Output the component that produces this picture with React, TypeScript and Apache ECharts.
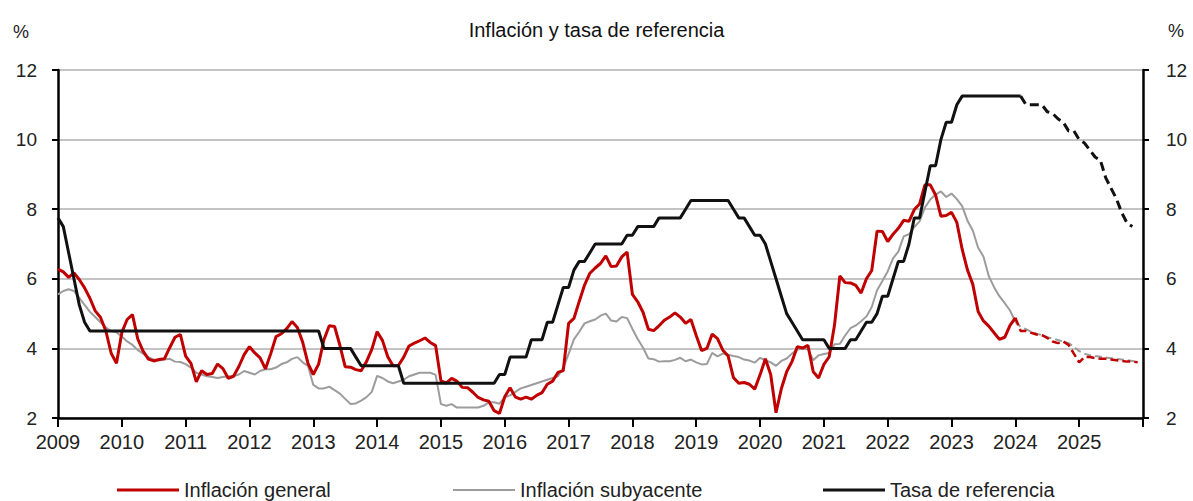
import React, { useEffect, useRef } from "react";
import * as echarts from "echarts";

const START_YEAR = 2009;
const yearTicks = [2009, 2010, 2011, 2012, 2013, 2014, 2015, 2016, 2017, 2018, 2019, 2020, 2021, 2022, 2023, 2024, 2025];

// Monthly, Jan 2009 – Jan 2024
const inflacionGeneral = [
  6.28, 6.2, 6.04, 6.17, 5.98, 5.74, 5.44, 5.08, 4.89, 4.5, 3.86, 3.57,
  4.46, 4.83, 4.97, 4.27, 3.92, 3.69, 3.64, 3.68, 3.7, 4.02, 4.32, 4.4,
  3.78, 3.57, 3.04, 3.36, 3.25, 3.28, 3.55, 3.42, 3.14, 3.2, 3.48, 3.82,
  4.05, 3.87, 3.73, 3.41, 3.85, 4.34, 4.42, 4.57, 4.77, 4.6, 4.18, 3.57,
  3.25, 3.55, 4.25, 4.65, 4.63, 4.09, 3.47, 3.46, 3.39, 3.36, 3.62, 3.97,
  4.48, 4.23, 3.76, 3.5, 3.51, 3.75, 4.07, 4.15, 4.22, 4.3, 4.17, 4.08,
  3.07, 3.0, 3.14, 3.06, 2.88, 2.87, 2.74, 2.59, 2.52, 2.48, 2.21, 2.13,
  2.61, 2.87, 2.6, 2.54, 2.6, 2.54, 2.65, 2.73, 2.97, 3.06, 3.31, 3.36,
  4.72, 4.86, 5.35, 5.82, 6.16, 6.31, 6.44, 6.66, 6.35, 6.37, 6.63, 6.77,
  5.55, 5.34, 5.04, 4.55, 4.51, 4.65, 4.81, 4.9, 5.02, 4.9, 4.72, 4.83,
  4.37, 3.94, 4.0, 4.41, 4.28, 3.95, 3.78, 3.16, 3.0, 3.02, 2.97, 2.83,
  3.24, 3.7, 3.25, 2.15, 2.84, 3.33, 3.62, 4.05, 4.01, 4.09, 3.33, 3.15,
  3.54, 3.76, 4.67, 6.08, 5.89, 5.88, 5.81, 5.59, 6.0, 6.24, 7.37, 7.36,
  7.07, 7.28, 7.45, 7.68, 7.65, 7.99, 8.15, 8.7, 8.7, 8.41, 7.8, 7.82,
  7.91, 7.62, 6.85, 6.25, 5.84, 5.06, 4.79, 4.64, 4.45, 4.26, 4.32, 4.66,
  4.88,
];

// Monthly, Jan 2024 – Dec 2025 (dashed)
const inflacionGeneralPronostico = [
  4.88, 4.5, 4.5, 4.45, 4.4, 4.38, 4.3, 4.2, 4.15, 4.2, 4.1, 3.85,
  3.6, 3.75, 3.75, 3.72, 3.7, 3.7, 3.68, 3.66, 3.64, 3.62, 3.62, 3.6,
];

// Monthly, Jan 2009 – Jan 2024
const inflacionSubyacente = [
  5.55, 5.65, 5.7, 5.65, 5.45, 5.25, 5.05, 4.9, 4.75, 4.6, 4.5, 4.46,
  4.34, 4.2, 4.1, 3.95, 3.85, 3.75, 3.68, 3.65, 3.68, 3.7, 3.62, 3.61,
  3.55, 3.45, 3.3, 3.25, 3.2, 3.18, 3.15, 3.18, 3.2, 3.2, 3.25, 3.35,
  3.3, 3.25, 3.35, 3.4, 3.4, 3.45, 3.55, 3.6, 3.7, 3.75, 3.6, 3.5,
  2.95, 2.85, 2.85, 2.9, 2.8, 2.7, 2.55, 2.4, 2.42, 2.5, 2.6, 2.75,
  3.21, 3.15, 3.05, 3.0, 3.05, 3.1, 3.2, 3.25, 3.3, 3.3, 3.3, 3.24,
  2.4, 2.35, 2.4, 2.3, 2.3, 2.3, 2.3, 2.3, 2.35, 2.45, 2.45, 2.41,
  2.6, 2.65, 2.75, 2.85, 2.9, 2.95, 3.0, 3.05, 3.1, 3.15, 3.2, 3.44,
  3.84, 4.26, 4.48, 4.72, 4.78, 4.83, 4.94, 5.0, 4.8, 4.77, 4.9, 4.87,
  4.56, 4.27, 4.02, 3.71, 3.69, 3.62, 3.63, 3.63, 3.67, 3.73, 3.63, 3.68,
  3.6, 3.54, 3.55, 3.87, 3.77, 3.85, 3.82, 3.78, 3.75, 3.68, 3.65, 3.59,
  3.73, 3.66, 3.6, 3.5, 3.64, 3.71, 3.85, 3.97, 3.99, 3.98, 3.66, 3.8,
  3.84, 3.87, 4.12, 4.13, 4.37, 4.58, 4.66, 4.78, 4.92, 5.19, 5.67, 5.94,
  6.21, 6.59, 6.78, 7.22, 7.28, 7.49, 7.65, 8.05, 8.28, 8.42, 8.51, 8.35,
  8.45, 8.29, 8.09, 7.67, 7.39, 6.89, 6.64, 6.08, 5.76, 5.5, 5.3, 5.09,
  4.76,
];

// Monthly, Jan 2024 – Dec 2025 (dashed)
const inflacionSubyacentePronostico = [
  4.76, 4.62, 4.55, 4.48, 4.42, 4.38, 4.32, 4.28, 4.24, 4.2, 4.15, 4.05,
  3.92, 3.85, 3.8, 3.78, 3.76, 3.74, 3.72, 3.7, 3.68, 3.66, 3.64, 3.62,
];

// Monthly, Jan 2009 – Feb 2024
const tasaReferencia = [
  7.75, 7.5, 6.75, 6.0, 5.25, 4.75, 4.5, 4.5, 4.5, 4.5, 4.5, 4.5,
  4.5, 4.5, 4.5, 4.5, 4.5, 4.5, 4.5, 4.5, 4.5, 4.5, 4.5, 4.5,
  4.5, 4.5, 4.5, 4.5, 4.5, 4.5, 4.5, 4.5, 4.5, 4.5, 4.5, 4.5,
  4.5, 4.5, 4.5, 4.5, 4.5, 4.5, 4.5, 4.5, 4.5, 4.5, 4.5, 4.5,
  4.5, 4.5, 4.0, 4.0, 4.0, 4.0, 4.0, 4.0, 3.75, 3.5, 3.5, 3.5,
  3.5, 3.5, 3.5, 3.5, 3.5, 3.0, 3.0, 3.0, 3.0, 3.0, 3.0, 3.0,
  3.0, 3.0, 3.0, 3.0, 3.0, 3.0, 3.0, 3.0, 3.0, 3.0, 3.0, 3.25,
  3.25, 3.75, 3.75, 3.75, 3.75, 4.25, 4.25, 4.25, 4.75, 4.75, 5.25, 5.75,
  5.75, 6.25, 6.5, 6.5, 6.75, 7.0, 7.0, 7.0, 7.0, 7.0, 7.0, 7.25,
  7.25, 7.5, 7.5, 7.5, 7.5, 7.75, 7.75, 7.75, 7.75, 7.75, 8.0, 8.25,
  8.25, 8.25, 8.25, 8.25, 8.25, 8.25, 8.25, 8.0, 7.75, 7.75, 7.5, 7.25,
  7.25, 7.0, 6.5, 6.0, 5.5, 5.0, 4.75, 4.5, 4.25, 4.25, 4.25, 4.25,
  4.25, 4.0, 4.0, 4.0, 4.0, 4.25, 4.25, 4.5, 4.75, 4.75, 5.0, 5.5,
  5.5, 6.0, 6.5, 6.5, 7.0, 7.75, 7.75, 8.5, 9.25, 9.25, 10.0, 10.5,
  10.5, 11.0, 11.25, 11.25, 11.25, 11.25, 11.25, 11.25, 11.25, 11.25, 11.25, 11.25,
  11.25, 11.25,
];

// Monthly, Feb 2024 – Nov 2025 (dashed)
const tasaReferenciaPronostico = [
  11.25, 11.0, 11.0, 11.0, 11.0, 10.8, 10.75, 10.6, 10.5, 10.25, 10.25,
  10.0, 9.9, 9.7, 9.5, 9.4, 8.9, 8.6, 8.3, 7.9, 7.6, 7.5,
];

const seriesNames = ["Inflación general", "Inflación subyacente", "Tasa de referencia"];
const titleText = "Inflación y tasa de referencia";

const toPoints = (vals: number[], startIndex: number) =>
  vals.map((v, i) => [START_YEAR + (startIndex + i) / 12, v]);

const RED = "#c00000";
const GRAY = "#9c9c9c";
const BLACK = "#111111";
const FONT = "'Liberation Sans', Arial, sans-serif";

export default function App() {
  const ref = useRef<HTMLDivElement>(null);

  useEffect(() => {
    document.body.style.margin = "0";
    document.body.style.overflow = "hidden";
    if (!ref.current) return;
    const chart = echarts.init(ref.current, undefined, { renderer: "svg" });
    const legendBase = {
      top: 480,
      padding: 0,
      itemWidth: 62,
      itemHeight: 3,
      icon: "rect",
      textStyle: { fontSize: 20, color: "#222", fontFamily: FONT },
      selectedMode: false,
    };
    chart.setOption({
      animation: false,
      backgroundColor: "#ffffff",
      textStyle: { fontFamily: FONT },
      title: {
        text: titleText,
        left: "center",
        top: 15,
        textStyle: { fontSize: 20, fontWeight: "normal", color: "#111", fontFamily: FONT },
      },
      graphic: [
        { type: "text", left: 13, top: 23, style: { text: "%", fontSize: 18, fill: "#222", fontFamily: FONT } },
        { type: "text", left: 1168, top: 22, style: { text: "%", fontSize: 18, fill: "#222", fontFamily: FONT } },
      ],
      legend: [
        { ...legendBase, left: 117, data: [seriesNames[0]] },
        { ...legendBase, left: 453, itemHeight: 2, data: [seriesNames[1]] },
        { ...legendBase, left: 823, data: [seriesNames[2]] },
      ],
      grid: { left: 58, right: 50, top: 70, bottom: 83, containLabel: false },
      xAxis: {
        type: "value",
        min: 2009,
        max: 2026,
        interval: 1,
        axisLine: { show: true, lineStyle: { color: "#000", width: 2.5 } },
        axisTick: { show: true, length: 9, lineStyle: { color: "#000", width: 2 } },
        splitLine: { show: false },
        axisLabel: {
          fontSize: 20,
          color: "#222",
          margin: 14,
          fontFamily: FONT,
          formatter: (v: number) => (yearTicks.includes(Math.round(v)) ? String(Math.round(v)) : ""),
        },
      },
      yAxis: [
        {
          type: "value",
          min: 2,
          max: 12,
          interval: 2,
          position: "left",
          axisLine: { show: true, lineStyle: { color: "#000", width: 2.5 } },
          axisTick: { show: true, length: 6, lineStyle: { color: "#000", width: 2 } },
          splitLine: { show: true, lineStyle: { color: "#c4c4c4", width: 2 } },
          axisLabel: { fontSize: 19, color: "#222", margin: 21, fontFamily: FONT },
        },
        {
          type: "value",
          min: 2,
          max: 12,
          interval: 2,
          position: "right",
          axisLine: { show: true, lineStyle: { color: "#000", width: 2.5 } },
          axisTick: { show: true, length: 6, lineStyle: { color: "#000", width: 2 } },
          splitLine: { show: false },
          axisLabel: { fontSize: 19, color: "#222", margin: 23, fontFamily: FONT },
        },
      ],
      series: [
        {
          name: seriesNames[1],
          type: "line",
          data: toPoints(inflacionSubyacente, 0),
          symbol: "none",
          lineStyle: { color: GRAY, width: 2 },
          itemStyle: { color: GRAY },
          z: 2,
        },
        {
          name: "Inflación subyacente (pronóstico)",
          type: "line",
          data: toPoints(inflacionSubyacentePronostico, 180),
          symbol: "none",
          lineStyle: { color: GRAY, width: 2, type: [7, 4] },
          itemStyle: { color: GRAY },
          z: 2,
        },
        {
          name: seriesNames[0],
          type: "line",
          data: toPoints(inflacionGeneral, 0),
          symbol: "none",
          lineStyle: { color: RED, width: 3 },
          itemStyle: { color: RED },
          z: 3,
        },
        {
          name: "Inflación general (pronóstico)",
          type: "line",
          data: toPoints(inflacionGeneralPronostico, 180),
          symbol: "none",
          lineStyle: { color: RED, width: 2.5, type: [8, 4] },
          itemStyle: { color: RED },
          z: 3,
        },
        {
          name: seriesNames[2],
          type: "line",
          data: toPoints(tasaReferencia, 0),
          symbol: "none",
          lineStyle: { color: BLACK, width: 3 },
          itemStyle: { color: BLACK },
          z: 4,
        },
        {
          name: "Tasa de referencia (pronóstico)",
          type: "line",
          data: toPoints(tasaReferenciaPronostico, 181),
          symbol: "none",
          lineStyle: { color: BLACK, width: 3, type: [9, 5] },
          itemStyle: { color: BLACK },
          z: 4,
        },
      ],
    });
    return () => chart.dispose();
  }, []);

  return <div ref={ref} style={{ width: 1193, height: 501 }} />;
}
